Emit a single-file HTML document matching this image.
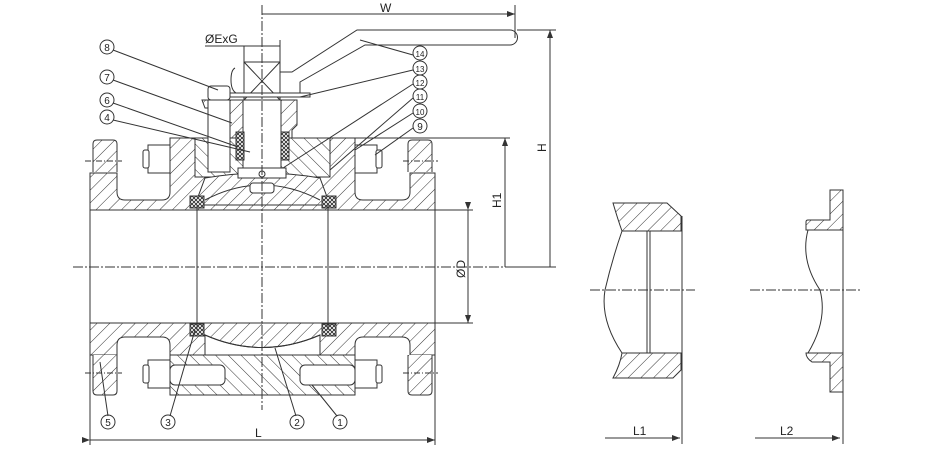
<!DOCTYPE html>
<html><head><meta charset="utf-8"><style>
html,body{margin:0;padding:0;background:#fff;}
svg{display:block;}
text{font-family:"Liberation Sans","DejaVu Sans",sans-serif;fill:#222;}
</style></head><body>
<svg width="940" height="450" viewBox="0 0 940 450" xmlns="http://www.w3.org/2000/svg">
<defs>
<pattern id="h" patternUnits="userSpaceOnUse" width="9" height="9" patternTransform="rotate(45)">
<rect width="9" height="9" fill="#fff"/><line x1="0" y1="0" x2="0" y2="9" stroke="#333" stroke-width="1"/></pattern>
<pattern id="h2" patternUnits="userSpaceOnUse" width="9" height="9" patternTransform="rotate(-45)">
<rect width="9" height="9" fill="#fff"/><line x1="0" y1="0" x2="0" y2="9" stroke="#333" stroke-width="1"/></pattern>
<pattern id="x" patternUnits="userSpaceOnUse" width="4" height="4">
<rect width="4" height="4" fill="#fff"/><path d="M0 0L4 4M4 0L0 4" stroke="#222" stroke-width="0.8"/></pattern>
<marker id="a" markerWidth="8" markerHeight="6" refX="8" refY="3" orient="auto"><path d="M0 0L8 3L0 6z" fill="#333"/></marker>
</defs>
<g stroke="#333" stroke-width="1" fill="none">
<path d="M90 173 L117 173 L117 192 Q117 200 125 200 L162 200 Q170 200 170 192 L170 138 L205 138 L205 180 Q230 178 262 178 Q300 178 320 180 L320 138 L355 138 L355 192 Q355 200 363 200 L402 200 Q410 200 410 192 L410 173 L435 173 L435 210 L90 210 Z" fill="url(#h)"/>
<path d="M93 172 L93 144 Q93 140 97 140 L113 140 Q117 140 117 144 L117 172" fill="url(#h)"/>
<path d="M408 172 L408 144 Q408 140 412 140 L428 140 Q432 140 432 144 L432 172" fill="url(#h)"/>
<line x1="85" y1="161" x2="122" y2="161" stroke-dasharray="6 2 1 2"/>
<line x1="403" y1="161" x2="438" y2="161" stroke-dasharray="6 2 1 2"/>
<path d="M195 138 L330 138 L330 177 L195 177 Z" fill="url(#h2)"/>
<path d="M205 178 Q262 168 320 178 L330 205 L195 205 Z" fill="url(#h)"/>
<path d="M205 200 Q262 170 320 200" />
<path d="M202 100 L297 100 L297 125 L292 130 L292 138 L230 138 L230 108 L205 108 Z" fill="url(#h)"/>
<rect x="208" y="100" width="22" height="72" fill="#fff"/>
<rect x="208" y="86" width="22" height="14" rx="3" fill="#fff"/>
<rect x="148" y="145" width="22" height="28" fill="#fff"/><rect x="143" y="150" width="6" height="18" rx="2" fill="#fff"/>
<rect x="355" y="145" width="22" height="28" fill="#fff"/><rect x="376" y="150" width="6" height="18" rx="2" fill="#fff"/>
<rect x="243" y="100" width="38" height="72" fill="#fff"/>
<rect x="238" y="168" width="48" height="10" fill="#fff"/>
<rect x="236" y="132" width="8" height="28" fill="url(#x)"/>
<rect x="281" y="132" width="8" height="28" fill="url(#x)"/>
<rect x="190" y="196" width="14" height="12" fill="url(#x)"/>
<rect x="322" y="196" width="14" height="12" fill="url(#x)"/>
<rect x="250" y="183" width="24" height="10" rx="3" fill="#fff"/>
<circle cx="262" cy="174" r="3"/>
<rect x="244" y="62" width="36" height="38" fill="#fff"/>
<path d="M244 62L280 100M280 62L244 100"/>
<path d="M235 68 Q231 70 231 80 Q231 90 236 93"/>
<rect x="230" y="93" width="80" height="4" fill="#fff"/>
<path d="M280 72 L292 72 L357 30 L510 30 A7.5 7.5 0 0 1 510 45 L365 45 L300 82 L300 93"/>
<path d="M90 323 L435 323 L435 355 L410 355 L410 345 Q410 337 402 337 L363 337 Q355 337 355 345 L355 395 L170 395 L170 345 Q170 337 162 337 L125 337 Q117 337 117 345 L117 355 L90 355 Z" fill="url(#h)"/>
<rect x="170" y="355" width="185" height="40" fill="url(#h2)"/>
<path d="M205 335 Q262 360 320 335 L320 355 L205 355 Z" fill="#fff"/>
<path d="M205 335 Q262 360 320 335"/>
<line x1="195" y1="355" x2="330" y2="355"/>
<path d="M93 355 L93 391 Q93 395 97 395 L113 395 Q117 395 117 391 L117 355" fill="url(#h)"/>
<path d="M408 355 L408 391 Q408 395 412 395 L428 395 Q432 395 432 391 L432 355" fill="url(#h)"/>
<line x1="85" y1="373" x2="122" y2="373" stroke-dasharray="6 2 1 2"/>
<line x1="403" y1="373" x2="438" y2="373" stroke-dasharray="6 2 1 2"/>
<rect x="148" y="360" width="22" height="28" fill="#fff"/><rect x="143" y="365" width="6" height="18" rx="2" fill="#fff"/>
<rect x="170" y="365" width="55" height="20" rx="5" fill="#fff"/>
<rect x="355" y="360" width="22" height="28" fill="#fff"/><rect x="376" y="365" width="6" height="18" rx="2" fill="#fff"/>
<rect x="300" y="365" width="55" height="20" rx="5" fill="#fff"/>
<rect x="190" y="324" width="14" height="12" fill="url(#x)"/>
<rect x="322" y="324" width="14" height="12" fill="url(#x)"/>
<line x1="90" y1="210" x2="90" y2="323"/>
<line x1="435" y1="210" x2="435" y2="323"/>
<line x1="197" y1="205" x2="197" y2="330"/>
<line x1="328" y1="205" x2="328" y2="330"/>
<line x1="262" y1="5" x2="262" y2="410" stroke-dasharray="10 2 2 2"/>
<line x1="73" y1="267" x2="510" y2="267" stroke-dasharray="10 2 2 2"/>
<line x1="90" y1="355" x2="90" y2="445"/><line x1="435" y1="355" x2="435" y2="445"/>
<line x1="90" y1="440" x2="435" y2="440" marker-start="url(#a)" marker-end="url(#a)"/>
<line x1="515" y1="5" x2="515" y2="38"/>
<line x1="262" y1="14" x2="515" y2="14" marker-end="url(#a)"/>
<line x1="205" y1="46" x2="280" y2="46"/>
<line x1="244" y1="46" x2="244" y2="62"/><line x1="280" y1="40" x2="280" y2="62"/>
<line x1="517" y1="30" x2="556" y2="30"/>
<line x1="550" y1="267" x2="550" y2="30" marker-end="url(#a)"/>
<line x1="330" y1="138" x2="510" y2="138"/>
<line x1="505" y1="267" x2="505" y2="138" marker-end="url(#a)"/>
<line x1="505" y1="267" x2="556" y2="267"/>
<line x1="435" y1="210" x2="473" y2="210"/><line x1="435" y1="323" x2="473" y2="323"/>
<line x1="468" y1="210" x2="468" y2="323" marker-start="url(#a)" marker-end="url(#a)"/>
<path d="M113 50 L218 90"/><path d="M113 80 L232 123"/><path d="M113 103 L238 147"/><path d="M113 120 L250 152"/>
<path d="M413 55 L360 40"/><path d="M413 70 L300 97"/><path d="M413 84 L283 168"/><path d="M413 98 L330 170"/><path d="M413 113 L355 150"/><path d="M413 128 L375 155"/>
<path d="M108 416 L100 362"/><path d="M170 416 L195 330"/><path d="M296 416 L275 348"/><path d="M337 416 L312 385"/>
<circle cx="107" cy="47" r="7"/><circle cx="107" cy="77" r="7"/><circle cx="107" cy="100" r="7"/><circle cx="107" cy="117" r="7"/>
<circle cx="420" cy="53" r="7"/><circle cx="420" cy="68" r="7"/><circle cx="420" cy="82" r="7"/><circle cx="420" cy="96" r="7"/><circle cx="420" cy="111" r="7"/><circle cx="420" cy="126" r="7"/>
<circle cx="108" cy="422" r="7"/><circle cx="168" cy="422" r="7"/><circle cx="297" cy="422" r="7"/><circle cx="340" cy="422" r="7"/>
<path d="M613 203 L667 203 L681 216 L681 231 L648 231 L622 231 Q618 220 613 203 Z" fill="url(#h)"/>
<path d="M622 353 L648 353 L681 353 L681 370 L673 378 L613 378 Q620 365 622 353 Z" fill="url(#h)"/>
<path d="M622 231 Q612 260 605 290 Q600 320 622 353"/>
<line x1="647" y1="231" x2="647" y2="353"/><line x1="650" y1="231" x2="650" y2="353"/>
<line x1="682" y1="216" x2="682" y2="444"/>
<line x1="590" y1="290" x2="695" y2="290" stroke-dasharray="10 2 2 2"/>
<line x1="605" y1="438" x2="680" y2="438" marker-end="url(#a)"/>
<path d="M830 190 L843 190 L843 230 L806 230 L806 222 Q806 220 808 220 L830 220 Z" fill="url(#h)"/>
<path d="M806 353 L843 353 L843 392 L830 392 L830 362 L812 362 Q806 358 806 353 Z" fill="url(#h)"/>
<path d="M808 230 Q800 260 820 290 Q828 320 808 353"/>
<line x1="843" y1="190" x2="843" y2="444"/>
<line x1="750" y1="290" x2="860" y2="290" stroke-dasharray="10 2 2 2"/>
<line x1="755" y1="438" x2="840" y2="438" marker-end="url(#a)"/>
</g>
<g font-size="12">
<text x="380" y="12">W</text>
<text x="205" y="43">ØExG</text>
<text x="255" y="437">L</text>
<text x="633" y="435">L1</text>
<text x="780" y="435">L2</text>
<text transform="translate(546,152) rotate(-90)">H</text>
<text transform="translate(501,208) rotate(-90)">H1</text>
<text transform="translate(465,278) rotate(-90)">ØD</text>
</g>
<g font-size="10" text-anchor="middle">
<text x="107" y="51">8</text><text x="107" y="81">7</text><text x="107" y="104">6</text><text x="107" y="121">4</text>
<text x="420" y="57" font-size="8">14</text><text x="420" y="72" font-size="8">13</text><text x="420" y="86" font-size="8">12</text><text x="420" y="100" font-size="8">11</text><text x="420" y="115" font-size="8">10</text><text x="420" y="130">9</text>
<text x="108" y="426">5</text><text x="168" y="426">3</text><text x="297" y="426">2</text><text x="340" y="426">1</text>
</g>
</svg>
</body></html>
